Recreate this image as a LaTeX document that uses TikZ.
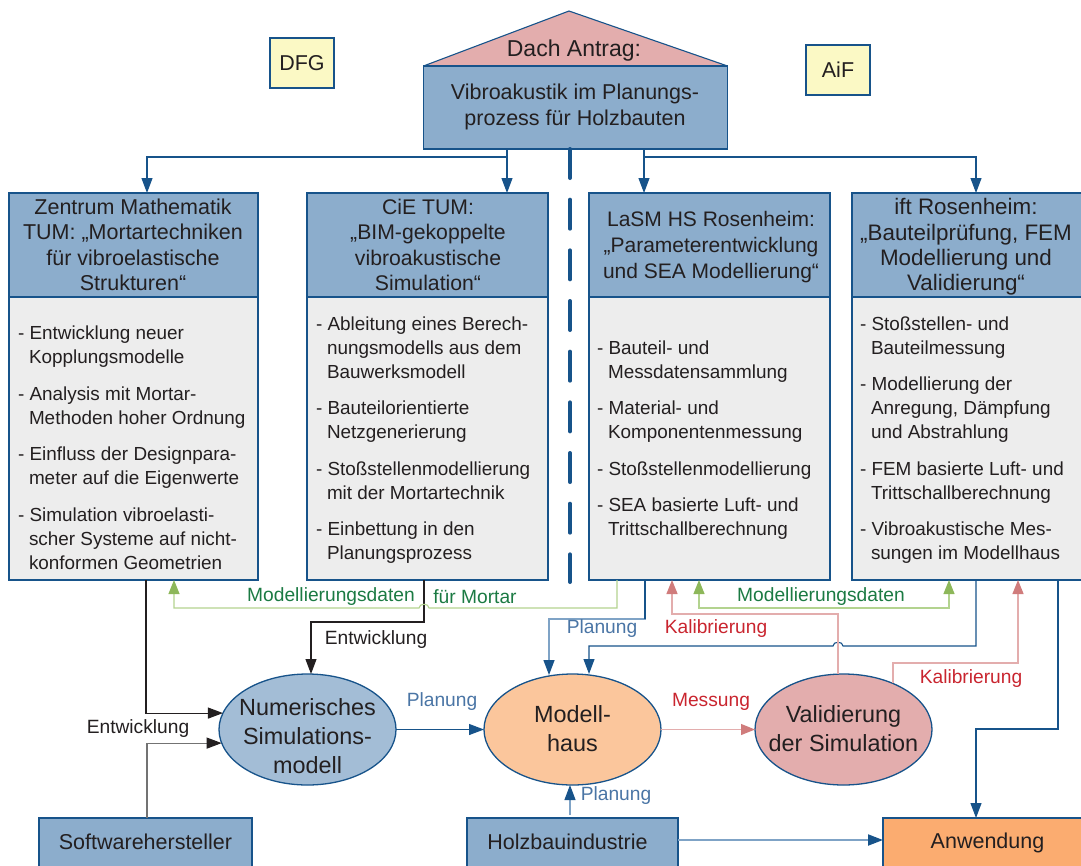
\documentclass[tikz,border=0pt]{standalone}
\usepackage{fontspec}
\setmainfont{Liberation Sans}
\usetikzlibrary{arrows.meta,shapes.geometric}
\definecolor{edge}{HTML}{17538A}
\definecolor{boxblue}{HTML}{8CADCC}
\definecolor{bodygray}{HTML}{EDEDED}
\definecolor{notey}{HTML}{FBF9C5}
\definecolor{rose}{HTML}{E3ADAD}
\definecolor{roseh}{HTML}{D07C7C}
\definecolor{ellblue}{HTML}{A3BDD6}
\definecolor{ellor}{HTML}{FBC69C}
\definecolor{orangeb}{HTML}{FBAC70}
\definecolor{lgreen}{HTML}{B3D38F}
\definecolor{hgreen}{HTML}{8DB75A}
\definecolor{tgreen}{HTML}{1B7A43}
\definecolor{tred}{HTML}{C9252F}
\definecolor{tblue}{HTML}{4A75A5}
\definecolor{txt}{HTML}{231F20}
\definecolor{lblue}{HTML}{7FA3C6}
\tikzset{
 x=1pt,y=-1pt,
 every node/.style={text=txt,inner sep=0pt,outer sep=0pt},
 rbox/.style={draw=edge,line width=1.3pt,anchor=north west},
 headbox/.style={rbox,fill=boxblue},
 bodybox/.style={rbox,fill=bodygray},
 notebox/.style={rbox,fill=notey},
 ell/.style={ellipse,draw=edge,line width=1.3pt,minimum width=177pt,minimum height=111pt},
 headtxt/.style={align=center,font=\fontsize{21.5}{25.4}\selectfont},
 headtxtb/.style={align=center,font=\fontsize{21}{26}\selectfont},
 headtxtc/.style={align=center,font=\fontsize{21.2}{25.4}\selectfont},
 headtxtd/.style={align=center,font=\fontsize{22.4}{25.4}\selectfont},
 bodytxt/.style={align=left,anchor=north west,font=\fontsize{18.9}{24}\selectfont},
 elltxt/.style={align=center,font=\fontsize{23.4}{29}\selectfont},
 lab/.style={font=\fontsize{19.2}{22}\selectfont},
 boxtxt/.style={font=\fontsize{21.5}{25}\selectfont},
 main/.style={draw=edge,line width=1.1pt,-{Triangle[length=15pt,width=11pt,color=edge]}},
 lightb/.style={draw=lblue,line width=1.3pt,-{Triangle[length=15pt,width=11pt,color=edge]}},
 blk/.style={draw=txt,line width=1.1pt,-{Triangle[length=15pt,width=11pt,color=txt]}},
 gryb/.style={draw=black!55,line width=1.1pt,-{Triangle[length=15pt,width=11pt,color=txt]}},
 grn/.style={draw=lgreen,line width=1.1pt,-{Triangle[length=14pt,width=11pt,color=hgreen]}},
 grnb/.style={draw=lgreen,line width=1.1pt,{Triangle[length=14pt,width=11pt,color=hgreen]}-{Triangle[length=14pt,width=11pt,color=hgreen]}},
 pnk/.style={draw=rose,line width=1.3pt,-{Triangle[length=14pt,width=11pt,color=roseh]}},
}
\newcommand{\hg}{\hspace*{11pt}}
\newcommand{\gp}{\\[12.5pt]}
\begin{document}
\begin{tikzpicture}
\useasboundingbox (0,0) rectangle (1081,865);
% top
\node[notebox,minimum width=64pt,minimum height=50pt] (dfg) at (270,38) {};
\node[boxtxt] at (dfg.center) {DFG};
\node[notebox,minimum width=64pt,minimum height=50pt] (aif) at (806,45) {};
\node[boxtxt] at (aif.center) {AiF};
\draw[draw=edge,line width=1.1pt,line join=bevel,fill=rose] (423.5,66) -- (569,11) -- (727.5,66) -- cycle;
\node[headbox,minimum width=304pt,minimum height=83pt] (ant) at (423.5,66) {};
\node at (574,51) [font=\fontsize{23}{27}\selectfont] {Dach Antrag:};
\node[align=center,font=\fontsize{21.5}{26.5}\selectfont] at (575,107) {Vibroakustik im Planungs-\\prozess für Holzbauten};
% columns
\node[headbox,minimum width=249pt,minimum height=104pt] (h1) at (9,193) {};
\node[bodybox,minimum width=249pt,minimum height=283pt] (b1) at (9,297) {};
\node[headbox,minimum width=241pt,minimum height=104pt] (h2) at (307,193) {};
\node[bodybox,minimum width=241pt,minimum height=283pt] (b2) at (307,297) {};
\node[headbox,minimum width=241pt,minimum height=104pt] (h3) at (589,193) {};
\node[bodybox,minimum width=241pt,minimum height=283pt] (b3) at (589,297) {};
\node[headbox,minimum width=232pt,minimum height=104pt] (h4) at (852,193) {};
\node[bodybox,minimum width=232pt,minimum height=283pt] (b4) at (852,297) {};
\node[headtxt] at (133,245) {Zentrum Mathematik\\TUM: „Mortartechniken\\für vibroelastische\\Strukturen“};
\node[headtxtc] at (428,245) {CiE TUM:\\„BIM-gekoppelte\\vibroakustische\\Simulation“};
\node[headtxtb] at (711,247) {LaSM HS Rosenheim:\\„Parameterentwicklung\\und SEA Modellierung“};
\node[headtxtd] at (966,247) {ift Rosenheim:\\„Bauteilprüfung, FEM\\Modellierung und\\Validierung“};
\node[bodytxt] at (18,326) {- Entwicklung neuer\\\hg Kopplungsmodelle\gp - Analysis mit Mortar-\\\hg Methoden hoher Ordnung\gp - Einfluss der Designpara-\\\hg meter auf die Eigenwerte\gp - Simulation vibroelasti-\\\hg scher Systeme auf nicht-\\\hg konformen Geometrien};
\node[bodytxt] at (316,316.5) {- Ableitung eines Berech-\\\hg nungsmodells aus dem\\\hg Bauwerksmodell\gp - Bauteilorientierte\\\hg Netzgenerierung\gp - Stoßstellenmodellierung\\\hg mit der Mortartechnik\gp - Einbettung in den\\\hg Planungsprozess};
\node[bodytxt] at (597,340.5) {- Bauteil- und\\\hg Messdatensammlung\gp - Material- und\\\hg Komponentenmessung\gp - Stoßstellenmodellierung\gp - SEA basierte Luft- und\\\hg Trittschallberechnung};
\node[bodytxt] at (860,316.5) {- Stoßstellen- und\\\hg Bauteilmessung\gp - Modellierung der\\\hg Anregung, Dämpfung\\\hg und Abstrahlung\gp - FEM basierte Luft- und\\\hg Trittschallberechnung\gp - Vibroakustische Mes-\\\hg sungen im Modellhaus};
% ellipses
\node[ell,fill=ellblue] (num) at (307.5,729.5) {};
\node[elltxt] at (307.5,736) {Numerisches\\Simulations-\\modell};
\node[ell,fill=ellor] (mod) at (572.5,729.5) {};
\node[elltxt] at (572.5,729) {Modell-\\haus};
\node[ell,fill=rose] (val) at (843.5,729.5) {};
\node[elltxt] at (843.5,729) {Validierung\\der Simulation};
% bottom
\node[headbox,minimum width=213pt,minimum height=60pt] (sw) at (39,818) {};
\node[headbox,minimum width=211pt,minimum height=60pt] (hb) at (467,818) {};
\node[rbox,fill=orangeb,minimum width=210pt,minimum height=60pt] (an) at (883,818) {};
\node[boxtxt] at (145.5,842) {Softwarehersteller};
\node[boxtxt] at (567.5,842) {Holzbauindustrie};
\node[boxtxt] at (987.5,843) {Anwendung};
% connectors
\coordinate (t1) at (147,193);\coordinate (t2) at (507,193);\coordinate (t3) at (644,193);\coordinate (t4) at (976,193);
\draw[main] (ant.south -| t2) -- (507,157) -| (t1);
\draw[main] (ant.south -| t2) -- (t2);
\draw[main] (ant.south -| t3) -- (t3);
\draw[main] (644,157) -| (t4);
\draw[draw=edge,line width=4pt,line cap=round,dash pattern=on 29pt off 21.67pt] (570,149) -- (570,582);
% black
\draw[blk] (b2.south -| 424,0) |- (311,622) -- (num.north -| 311,0);
\draw[blk] (b1.south -| 146,0) |- (num.169);
\draw[gryb] (sw.north -| 147,0) |- (num.189);
% blue
\draw[main] (num.east) -- (mod.west);
\draw[lightb] (b3.south -| 645,0) |- (549,619) -- (549,675);
\draw[draw=edge,line width=1.1pt] (b3.south -| 645,0) -- (645,619);
\draw[main] (b4.south -| 976,0) -- (976,646) -- (843,646) .. controls (843,641) and (833,641) .. (833,646) -- (589,646) -- (589,674);
\draw[main] (b4.south -| 1058,0) |- (976,729) -- (an.north -| 976,0);
\draw[lightb,line width=2pt] (hb.east |- 0,840) -- (an.west |- 0,840);
\draw[lightb,line width=1.1pt] (570,815) -- (mod.south -| 570,0);
% green
\draw[grn] (b3.south -| 617,0) |- (429,608) .. controls (429,603) and (419,603) .. (419,608) -| (b1.south -| 174,0);
\draw[grnb] (b3.south -| 699,0) -- (699,608) -- (949,608) -- (b4.south -| 949,0);
% pink
\draw[pnk] (val.north -| 838,0) |- (672,614) -- (b3.south -| 672,0);
\draw[pnk] (val.43) |- (1018,663) -- (b4.south -| 1018,0);
\draw[pnk,line width=1.1pt] (mod.east) -- (val.west);
% labels
\node[lab,text=tgreen] at (331,596.5) {Modellierungsdaten};
\node[lab,text=tgreen] at (475,596.5) {für Mortar};
\node[lab,text=tgreen] at (821,596.5) {Modellierungsdaten};
\node[lab] at (376,640) {Entwicklung};
\node[lab] at (138,729) {Entwicklung};
\node[lab,text=tblue] at (602,629) {Planung};
\node[lab,text=tblue] at (442,702) {Planung};
\node[lab,text=tblue] at (616,796) {Planung};
\node[lab,text=tred] at (716,629) {Kalibrierung};
\node[lab,text=tred] at (971,679) {Kalibrierung};
\node[lab,text=tred] at (711,702) {Messung};
\end{tikzpicture}
\end{document}
